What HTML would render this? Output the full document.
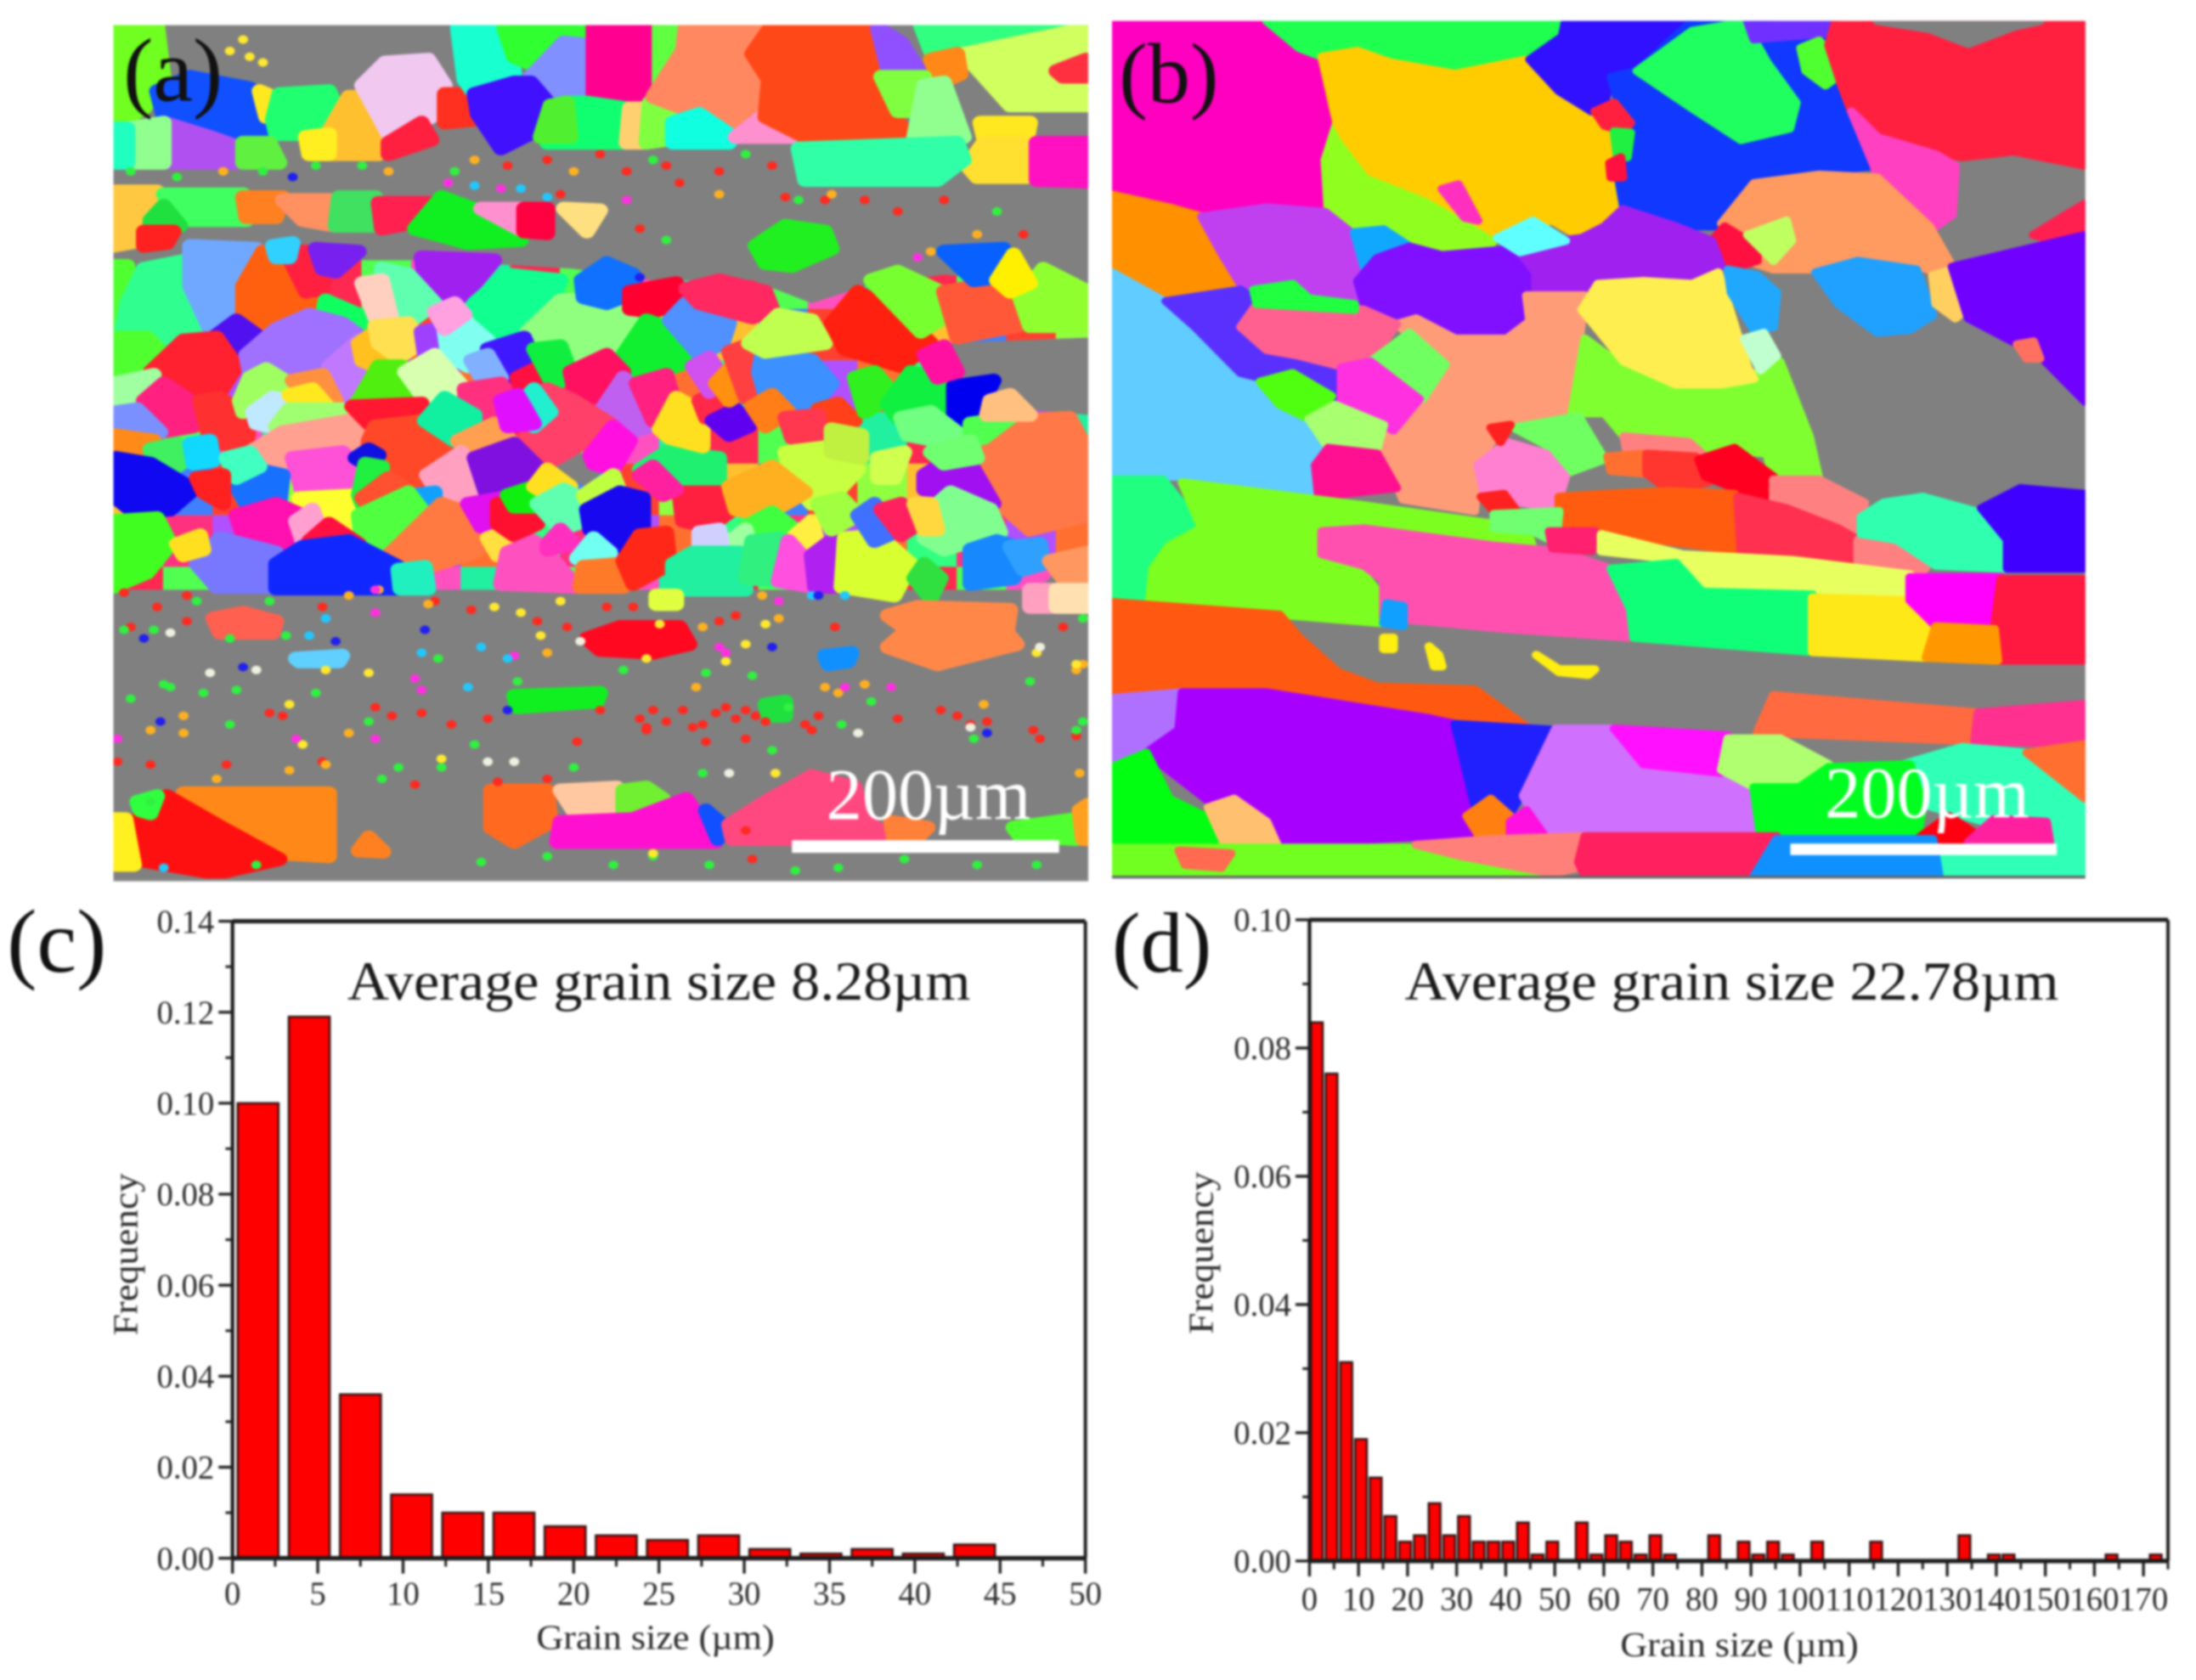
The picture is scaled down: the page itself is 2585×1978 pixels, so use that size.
<!DOCTYPE html>
<html lang="en">
<head>
<meta charset="utf-8">
<title>Grain maps and grain size distributions</title>
<style>
html,body{margin:0;padding:0;background:#fff;width:2585px;height:1978px;overflow:hidden}
#figure{display:block;width:2585px;height:1978px;filter:blur(1.3px)}
text{font-family:"Liberation Serif",serif}
.lbl{fill:#2a2a2a}
</style>
</head>
<body>
<svg id="figure" xmlns="http://www.w3.org/2000/svg" viewBox="0 0 1568 1200" preserveAspectRatio="none">
<defs>
<pattern id="mosaic" patternUnits="userSpaceOnUse" x="44" y="450" width="300" height="270">
<rect width="300" height="270" fill="#40f060"/>
<rect x="0" y="0" width="75" height="90" fill="#ff2850"/>
<rect x="75" y="0" width="75" height="90" fill="#50ff50"/>
<rect x="150" y="0" width="75" height="90" fill="#ff50c0"/>
<rect x="225" y="0" width="75" height="90" fill="#20f0a0"/>
<rect x="0" y="90" width="75" height="90" fill="#ffc030"/>
<rect x="75" y="90" width="75" height="90" fill="#4080ff"/>
<rect x="150" y="90" width="75" height="90" fill="#ff4030"/>
<rect x="225" y="90" width="75" height="90" fill="#90ff40"/>
<rect x="0" y="180" width="75" height="90" fill="#30ff80"/>
<rect x="75" y="180" width="75" height="90" fill="#ff3080"/>
<rect x="150" y="180" width="75" height="90" fill="#b050ff"/>
<rect x="225" y="180" width="75" height="90" fill="#ff7030"/>
</pattern>
</defs>
<rect width="1568" height="1200" fill="#fff"/>

<svg x="81" y="18" width="696" height="610" viewBox="44 45 1474 1490" preserveAspectRatio="none">
<rect x="0" y="0" width="1600" height="1600" fill="#808080"/>
<polygon fill="url(#mosaic)" points="44,480 260,455 520,455 740,470 860,490 1010,490 1100,530 1180,500 1300,480 1518,510 1518,590 1300,600 1270,700 1518,725 1518,950 1440,1030 44,1030"/>
<polygon fill="#808080" points="690,815 740,785 790,815 760,850"/>
<g id="grains-a">
<polygon fill="#70ff20" points="44,45 110,45 120,140 90,190 44,220"/>
<polygon fill="#1050ff" points="110,160 160,135 250,155 280,220 250,255 190,240 120,205"/>
<polygon fill="#b050f0" points="120,215 190,240 240,260 240,285 120,285"/>
<polygon fill="#90ff90" points="65,225 120,215 120,285 70,285"/>
<polygon fill="#20ffc0" points="44,225 65,225 65,285 44,285"/>
<polygon fill="#ffe820" points="265,160 295,175 290,205 275,205"/>
<polygon fill="#20ff70" points="295,165 370,160 385,200 365,235 290,235 285,210"/>
<polygon fill="#60f040" points="240,250 280,250 295,285 240,285"/>
<polygon fill="#ffc030" points="365,240 400,170 420,170 460,235 445,270 340,270"/>
<polygon fill="#f0c8f0" points="420,150 455,110 520,105 545,150 545,190 510,215 460,235"/>
<polygon fill="#ffee20" points="335,240 370,235 370,270 340,270"/>
<polygon fill="#ff2040" points="460,250 510,215 525,245 460,270"/>
<polygon fill="#ff3020" points="545,165 590,165 590,210 545,215"/>
<polygon fill="#18ffd0" points="565,50 640,50 650,130 590,165 575,140"/>
<polygon fill="#30ff30" points="635,50 760,50 710,120 670,110 650,100"/>
<polygon fill="#8090ff" points="675,135 725,75 770,80 770,170 720,180"/>
<polygon fill="#ff0090" points="770,45 870,45 870,165 830,185 770,170"/>
<polygon fill="#4010ff" points="590,165 650,145 675,145 705,185 690,225 630,260 595,200"/>
<polygon fill="#10ff70" points="700,225 725,180 760,180 820,190 825,250 700,250"/>
<polygon fill="#50f030" points="690,240 705,185 730,180 735,240"/>
<polygon fill="#ffd070" points="825,190 850,190 850,250 820,250"/>
<polygon fill="#80ff40" points="855,180 890,200 880,245 850,250"/>
<polygon fill="#60ff40" points="870,45 910,45 890,130 870,165"/>
<polygon fill="#ff8860" points="910,45 1030,45 1010,95 1035,140 1030,210 990,215 930,200 860,170 905,90"/>
<polygon fill="#10ffe0" points="890,215 930,200 975,235 975,250 890,250"/>
<polygon fill="#ff90d0" points="985,240 1030,200 1085,240"/>
<polygon fill="#ff4818" points="1040,45 1200,45 1215,125 1215,185 1245,240 1090,240 1030,205 1035,140 1010,95"/>
<polygon fill="#9050ff" points="1200,50 1235,75 1265,130 1235,135 1215,120"/>
<polygon fill="#30ff80" points="1265,45 1518,45 1518,70 1330,95 1280,90"/>
<polygon fill="#d0ff60" points="1330,95 1518,50 1518,185 1400,185"/>
<polygon fill="#ff3040" points="1470,125 1515,105 1515,135 1480,135"/>
<polygon fill="#ff8818" points="1280,105 1320,95 1325,130 1295,145"/>
<polygon fill="#80ff40" points="1205,135 1270,135 1265,195 1230,195"/>
<polygon fill="#90ff90" points="1255,240 1270,150 1300,145 1330,240"/>
<polygon fill="#ffe820" points="1355,215 1430,215 1425,245 1360,240"/>
<polygon fill="#ffe030" points="1335,290 1360,250 1420,250 1425,310 1350,310"/>
<polygon fill="#ff10c0" points="1440,250 1518,250 1518,318 1440,315"/>
<polygon fill="#30ffa8" points="1080,260 1320,250 1330,280 1290,315 1090,315"/>
<polygon fill="#ffc840" points="44,335 110,335 90,420 44,430"/>
<polygon fill="#40ff60" points="120,340 240,340 245,385 150,385"/>
<polygon fill="#20e040" points="100,385 120,360 145,395 100,405"/>
<polygon fill="#ff2020" points="90,405 135,405 125,425 90,430"/>
<polygon fill="#ff8020" points="240,345 300,345 290,380 245,380"/>
<polygon fill="#ff9060" points="300,350 385,350 380,395 330,385"/>
<polygon fill="#40e060" points="385,345 440,345 440,395 380,395"/>
<polygon fill="#ff2050" points="445,355 525,355 520,385 450,400"/>
<polygon fill="#10f020" points="500,400 540,345 600,370 660,420 580,425"/>
<polygon fill="#ff90d0" points="600,365 665,365 665,405"/>
<polygon fill="#ff0040" points="665,365 700,365 700,408 665,405"/>
<polygon fill="#ffe080" points="725,365 780,368 760,405"/>
<polygon fill="#20f020" points="1015,430 1060,395 1120,405 1130,435 1070,465 1030,460"/>

<polygon fill="#50ff30" points="44,465 65,465 70,600 44,600"/>
<polygon fill="#30ff90" points="65,530 90,470 155,455 185,575 140,590 100,615 55,590"/>
<polygon fill="#70a8ff" points="160,430 260,435 240,490 245,540 220,565 190,575 160,500"/>
<polygon fill="#ff6010" points="240,500 270,440 310,465 345,520 340,555 270,585 240,560"/>
<polygon fill="#ff2040" points="305,440 350,440 365,470 360,505 335,510"/>
<polygon fill="#7820f0" points="350,435 415,440 380,475 360,470"/>
<polygon fill="#30d0ff" points="285,430 315,425 310,450 290,450"/>
<polygon fill="#a020f0" points="510,450 620,455 580,510 555,530 515,490"/>
<polygon fill="#60ffb0" points="450,470 490,480 530,530 490,565 450,555"/>
<polygon fill="#10ff60" points="365,525 415,550 440,580 415,590 360,555"/>
<polygon fill="#ffd0c0" points="420,495 450,490 465,560 440,555"/>
<polygon fill="#50ff30" points="44,590 95,590 120,620 95,660 50,670"/>
<polygon fill="#5010f0" points="195,590 230,560 260,585 240,620 210,620"/>
<polygon fill="#ff2030" points="100,650 150,595 200,590 230,640 200,695 135,680"/>
<polygon fill="#a070ff" points="245,620 290,575 340,550 390,565 420,590 370,640 370,700 320,660 250,650"/>
<polygon fill="#c078ff" points="370,640 415,595 435,630 410,700 370,700"/>
<polygon fill="#ffc020" points="415,600 440,580 460,610 440,640 420,630"/>
<polygon fill="#ffe050" points="440,570 490,565 510,600 475,625 445,600"/>
<polygon fill="#a040ff" points="510,580 550,570 545,620 515,620"/>
<polygon fill="#10ff90" points="590,530 640,480 720,490 700,545 670,590 620,595"/>
<polygon fill="#80fff0" points="545,580 570,555 610,595 580,640 550,620"/>
<polygon fill="#ffa0e0" points="530,545 560,530 575,550 545,575"/>
<polygon fill="#90ff80" points="670,580 720,525 800,520 835,565 800,610 735,630 690,610"/>
<polygon fill="#1070ff" points="752,490 790,460 830,480 835,510 790,530 755,520"/>
<polygon fill="#ff0030" points="825,510 895,495 900,530 860,545 825,540"/>
<polygon fill="#10f030" points="815,620 850,560 900,580 930,625 870,650 820,650"/>
<polygon fill="#5090ff" points="885,560 910,530 975,565 965,600 930,620"/>
<polygon fill="#ff2860" points="910,505 960,490 1030,510 1040,540 1010,555 930,530"/>
<polygon fill="#4018ff" points="610,610 665,590 680,630 640,670 615,650"/>
<polygon fill="#80b0ff" points="585,630 610,620 630,660 600,660"/>
<polygon fill="#50ef10" points="415,700 445,640 480,640 510,705 410,705"/>
<polygon fill="#d8ffb0" points="485,650 530,620 575,680 545,705 510,690"/>
<polygon fill="#ff3080" points="575,680 630,670 655,710 640,740 580,735"/>
<polygon fill="#ff1040" points="655,660 690,640 705,670 660,680"/>
<polygon fill="#10ef40" points="680,610 720,605 735,650 710,675"/>
<polygon fill="#ff1060" points="735,650 790,620 815,650 790,690 745,700"/>
<polygon fill="#c060f0" points="780,720 815,660 850,700 855,745 810,760"/>
<polygon fill="#ff2080" points="835,670 880,655 890,695 860,735"/>
<polygon fill="#a0ffa0" points="44,670 105,655 85,715 44,710"/>
<polygon fill="#ff2080" points="90,700 120,670 160,700 165,745 115,755"/>
<polygon fill="#ff3030" points="175,700 205,695 250,730 245,785 190,770"/>
<polygon fill="#7a90ff" points="50,720 80,715 115,755 85,770 50,760"/>
<polygon fill="#ff8a18" points="44,760 105,770 95,800 44,800"/>
<polygon fill="#40f060" points="100,785 140,775 165,795 140,815 105,810"/>
<polygon fill="#10d8ff" points="160,775 190,770 195,805 165,810"/>
<polygon fill="#a0ff60" points="235,700 250,660 275,645 310,670 305,700 275,690 240,720"/>
<polygon fill="#c0e8ff" points="255,720 285,695 310,700 280,745 260,740"/>
<polygon fill="#ff9040" points="315,665 360,655 380,700 345,700"/>
<polygon fill="#ffe820" points="310,690 345,680 375,720 340,720"/>
<polygon fill="#a0ff70" points="290,745 310,715 400,715 400,735 320,755"/>
<polygon fill="#ffa090" points="250,790 300,755 400,735 435,770 420,790 340,785 310,820"/>
<polygon fill="#ff1830" points="405,710 510,705 510,735 430,740"/>
<polygon fill="#ff4828" points="430,770 440,745 515,735 560,775 510,820 490,860 450,820 430,800"/>
<polygon fill="#10f0a0" points="515,735 545,695 590,725 590,740 560,770"/>
<polygon fill="#ffa050" points="565,770 620,740 645,770 590,795"/>
<polygon fill="#ff4068" points="660,785 700,680 740,700 795,740 760,770 700,810"/>
<polygon fill="#20f0d0" points="655,710 680,680 705,720 680,745"/>
<polygon fill="#e010ff" points="630,700 655,690 680,740 640,745"/>
<polygon fill="#ffa0c0" points="518,830 570,790 595,850 590,880 540,870"/>
<polygon fill="#8010e0" points="590,800 650,775 685,815 660,850 610,870"/>
<polygon fill="#ff10e0" points="765,795 800,745 825,770 800,820 770,810"/>
<polygon fill="#ff50d8" points="315,800 390,790 410,810 410,865 330,860"/>
<polygon fill="#ffff30" points="325,870 410,865 410,915 375,915 330,890"/>
<polygon fill="#1008f0" points="48,800 100,810 165,855 130,890 75,895 48,870"/>
<polygon fill="#1870ff" points="230,850 260,820 300,830 295,880 250,890"/>
<polygon fill="#40ffc0" points="215,800 250,790 265,815 230,835"/>
<polygon fill="#ff2020" points="170,835 210,830 210,880 180,860"/>
<polygon fill="#1010e0" points="410,800 430,785 445,795 425,810"/>
<polygon fill="#20f040" points="415,865 425,810 450,815 450,860 420,880"/>
<polygon fill="#ff5030" points="420,870 460,835 495,860 440,895"/>
<polygon fill="#10a0ff" points="497,865 530,860 530,895 505,895"/>
<polygon fill="#50ff40" points="415,900 490,860 510,890 490,945 440,965 420,950"/>
<polygon fill="#ff7a40" points="460,970 540,880 590,900 620,930 590,965 520,990"/>
<polygon fill="#e010f0" points="580,880 630,870 630,915 600,920"/>
<polygon fill="#ffe040" points="610,940 635,930 645,960 625,970"/>
<polygon fill="#ff1030" points="625,880 675,885 685,915 650,935 625,915"/>
<polygon fill="#10f010" points="640,865 680,850 685,885 650,885"/>
<polygon fill="#ffe020" points="680,850 700,820 735,850 710,870"/>
<polygon fill="#60ffb0" points="685,880 725,855 760,875 755,910 720,925"/>
<polygon fill="#c0ff40" points="755,865 800,830 810,860 765,885"/>
<polygon fill="#1808f0" points="760,890 810,860 845,870 845,920 810,955 765,925"/>
<polygon fill="#ff50c0" points="630,1020 640,965 680,945 710,980 745,1025"/>
<polygon fill="#ff30c0" points="700,950 720,925 740,950 700,960"/>
<polygon fill="#70fff0" points="745,975 770,940 795,965 770,990"/>
<polygon fill="#ff7a28" points="750,1025 755,990 810,985 815,1025"/>
<polygon fill="#ff2818" points="815,980 840,935 880,930 885,985 830,1020"/>
<polygon fill="#20f070" points="840,820 880,790 960,800 960,850 900,855 870,825"/>
<polygon fill="#ff2040" points="900,860 970,860 975,895 945,920 905,910"/>
<polygon fill="#ff20a0" points="860,815 895,855 875,865 840,830"/>
<polygon fill="#ffe020" points="870,750 895,695 935,720 935,780 885,765"/>
<polygon fill="#ff2848" points="930,700 950,690 970,725 940,730"/>
<polygon fill="#6000f0" points="950,735 985,715 1005,745 975,760"/>
<polygon fill="#d050f0" points="920,640 945,625 965,660 945,685"/>
<polygon fill="#ff9010" points="955,670 975,645 1000,680 975,700"/>
<polygon fill="#ff4040" points="975,615 1010,600 1025,680 1000,695"/>
<polygon fill="#3c90ff" points="1020,650 1025,620 1100,630 1130,670 1095,720 1030,690"/>
<polygon fill="#c0ff50" points="1005,600 1050,550 1100,560 1120,600 1030,615"/>
<polygon fill="#ff2010" points="1130,565 1170,510 1245,560 1280,600 1235,640 1150,610"/>
<polygon fill="#ff7e18" points="1010,710 1040,690 1065,720 1030,745"/>
<polygon fill="#ff4018" points="1110,715 1140,705 1165,735 1125,745"/>
<polygon fill="#ff3850" points="1060,730 1110,725 1115,760 1070,765"/>
<polygon fill="#30f020" points="1165,660 1195,650 1225,690 1180,720"/>
<polygon fill="#10f040" points="1215,705 1250,650 1310,665 1310,720 1280,740 1230,730"/>
<polygon fill="#0000f0" points="1315,675 1375,665 1350,720 1330,755 1315,730"/>
<polygon fill="#ff10a0" points="1270,620 1300,605 1320,650 1290,660"/>
<polygon fill="#78ff30" points="1190,490 1230,475 1295,510 1300,555 1265,580"/>
<polygon fill="#ff5838" points="1300,510 1350,500 1400,530 1410,570 1320,590"/>
<polygon fill="#90ff30" points="1415,520 1450,470 1518,510 1518,570 1430,570"/>
<polygon fill="#0860ff" points="1300,440 1390,435 1380,485 1345,490"/>
<polygon fill="#fff000" points="1380,490 1405,445 1430,495 1400,510"/>
<polygon fill="#ff7848" points="1355,780 1400,735 1490,730 1518,790 1518,900 1430,925 1385,880"/>
<polygon fill="#70ff80" points="1235,730 1280,720 1325,760 1290,770 1245,760"/>
<polygon fill="#50ff50" points="1340,740 1400,730 1360,765 1340,770"/>
<polygon fill="#a010f0" points="1270,830 1310,800 1340,810 1375,880 1320,860 1270,855"/>
<polygon fill="#80ff90" points="1270,900 1310,860 1370,890 1385,930 1300,960 1270,940"/>
<polygon fill="#ffc080" points="1370,700 1400,690 1430,725 1365,725"/>
<polygon fill="#c8ff40" points="1060,790 1130,780 1170,820 1130,870 1100,880 1070,840"/>
<polygon fill="#ffb020" points="975,850 1040,815 1090,860 1030,900 985,890"/>
<polygon fill="#40ff40" points="1000,920 1040,895 1075,925 1040,960 1005,950"/>
<polygon fill="#a0ffa0" points="970,950 1000,925 1010,965 985,975"/>
<polygon fill="#d0d0ff" points="930,930 960,925 965,960 930,965"/>
<polygon fill="#ffef40" points="1075,935 1100,910 1110,955 1090,965"/>
<polygon fill="#20f0a0" points="890,985 920,965 990,965 1000,1030 890,1030"/>
<polygon fill="#30f080" points="1000,1010 1010,945 1050,940 1050,1015"/>
<polygon fill="#ff50e0" points="1050,1015 1065,945 1100,990 1105,1025"/>
<polygon fill="#b020f0" points="1100,970 1140,935 1145,1025 1105,1025"/>
<polygon fill="#d8ff30" points="1145,1025 1150,940 1200,935 1250,985 1225,1040"/>
<polygon fill="#30e040" points="1255,1010 1270,985 1295,1010 1280,1045"/>
<polygon fill="#a0ff40" points="1110,880 1145,870 1170,900 1130,925"/>
<polygon fill="#4070ff" points="1170,900 1195,880 1225,930 1195,945"/>
<polygon fill="#ff2060" points="1205,890 1235,880 1255,920 1235,935"/>
<polygon fill="#ffd840" points="1255,880 1280,880 1290,925 1270,925"/>
<polygon fill="#1888ff" points="1340,960 1380,945 1425,960 1405,1010 1340,1020"/>
<polygon fill="#30a0ff" points="1400,955 1445,950 1450,985 1420,995"/>
<polygon fill="#ff9860" points="1460,980 1518,965 1518,1010 1480,1010"/>
<polygon fill="#ffa0c0" points="1430,1030 1465,1030 1465,1060 1430,1060"/>
<polygon fill="#ffe0b0" points="1470,1030 1518,1030 1518,1060 1470,1060"/>
<polygon fill="#c0f040" points="1130,750 1175,760 1175,800 1130,790"/>
<polygon fill="#d0ff50" points="1200,800 1240,790 1225,835 1200,835"/>
<polygon fill="#70ff70" points="1280,790 1340,770 1350,800 1300,810"/>
<polygon fill="#ff10b0" points="230,900 290,880 330,900 330,945 290,965 240,935"/>
<polygon fill="#ffa0d0" points="320,910 345,890 355,920 330,945"/>
<polygon fill="#ff1040" points="340,945 370,915 415,950 345,955"/>
<polygon fill="#7878ff" points="170,985 205,940 290,965 290,1025 200,1025"/>
<polygon fill="#1028ff" points="290,985 330,955 400,945 475,990 475,1028 290,1028"/>
<polygon fill="#40ff20" points="44,910 110,905 130,950 95,1000 44,1025"/>
<polygon fill="#ffe020" points="140,950 175,935 180,960 150,970"/>
<polygon fill="#20f0c0" points="475,995 515,990 520,1028 478,1028"/>

<polygon fill="#ff6050" points="195,1080 240,1070 290,1085 285,1105 205,1105"/>
<polygon fill="#ff0820" points="760,1115 810,1095 900,1095 915,1125 860,1140 780,1135"/>
<polygon fill="#ff8848" points="1215,1075 1260,1060 1400,1065 1395,1105 1410,1125 1290,1160 1215,1130 1245,1100"/>
<polygon fill="#1090ff" points="1120,1145 1160,1140 1155,1155 1125,1160"/>
<polygon fill="#10f020" points="650,1215 780,1210 775,1225 655,1235"/>
<polygon fill="#60d0ff" points="320,1150 390,1145 385,1155 325,1155"/>
<polygon fill="#e0ff40" points="865,1040 895,1040 895,1055 865,1055"/>
<polygon fill="#20e040" points="1030,1230 1060,1225 1060,1250 1035,1250"/>

<polygon fill="#ff8818" points="150,1385 370,1385 370,1495 295,1490"/>
<polygon fill="#ff1010" points="75,1435 125,1390 200,1440 295,1500 200,1525 75,1500"/>
<polygon fill="#fff020" points="44,1430 62,1430 75,1510 44,1510"/>
<polygon fill="#30ff40" points="80,1400 110,1390 100,1420 85,1415"/>
<polygon fill="#ff8020" points="415,1485 430,1462 452,1487"/>
<polygon fill="#ff6a20" points="615,1380 700,1380 705,1435 650,1470 615,1445"/>
<polygon fill="#ffc8a0" points="720,1380 805,1375 810,1425 745,1425"/>
<polygon fill="#70f030" points="815,1380 850,1375 875,1395 840,1420 815,1415"/>
<polygon fill="#ff10d0" points="720,1435 830,1430 910,1395 955,1470 715,1470"/>
<polygon fill="#1050ff" points="940,1415 965,1440 958,1465"/>
<polygon fill="#ff4880" points="975,1440 1030,1400 1100,1355 1165,1375 1175,1430 1225,1465 980,1465"/>
<polygon fill="#ff8038" points="1220,1435 1275,1445 1255,1467 1225,1467"/>
<polygon fill="#50ff30" points="1405,1445 1500,1430 1500,1465 1415,1460"/>
<polygon fill="#ffa020" points="1505,1415 1518,1405 1518,1465 1510,1465"/>
</g>
<g fill="none" stroke-linecap="round" stroke-width="15">
<path stroke="#ff2a20" d="M640 290h.1M700 280h.1M780 270h.1M820 300h.1M880 290h.1M900 320h.1M960 300h.1M1040 290h.1M720 340h.1M1180 350h.1M1230 370h.1M1300 350h.1M840 400h.1M1420 410h.1M1120 350h.1M1060 345h.1M60 1035h.1M155 1040h.1M110 1060h.1M155 1085h.1M70 1095h.1M360 1060h.1M530 1050h.1M585 1065h.1M685 1085h.1M730 1095h.1M790 1060h.1M830 1060h.1M960 1085h.1M985 1075h.1M1135 1095h.1M1480 1095h.1M440 1235h.1M465 1250h.1M510 1245h.1M555 1265h.1M610 1255h.1M780 1240h.1M860 1240h.1M880 1260h.1M905 1240h.1M935 1265h.1M970 1235h.1M1000 1240h.1M1030 1260h.1M1090 1265h.1M1110 1250h.1M1230 1255h.1M1295 1240h.1M1340 1265h.1M1365 1260h.1M1435 1275h.1M1500 1285h.1M745 1295h.1M940 1295h.1M1000 1290h.1M50 1330h.1M100 1335h.1M215 1335h.1M360 1330h.1M500 1370h.1M625 1365h.1M700 1360h.1M1000 1450h.1M1010 1500h.1M280 1245h.1M300 1250h.1M850 1270h.1M920 1270h.1M850 1275h.1M1445 1290h.1M985 1255h.1M1015 1250h.1M955 1245h.1M840 1255h.1M1320 1250h.1M1100 1275h.1"/>
<path stroke="#30f040" d="M70 300h.1M140 310h.1M270 300h.1M350 290h.1M420 290h.1M560 300h.1M860 280h.1M1000 270h.1M1080 350h.1M1380 370h.1M880 420h.1M60 1100h.1M105 1100h.1M220 1115h.1M305 1110h.1M535 1150h.1M655 1190h.1M1010 1180h.1M940 1175h.1M1190 1225h.1M1065 1235h.1M1145 1265h.1M1345 1290h.1M1040 1310h.1M740 1340h.1M935 1350h.1M1510 1260h.1M120 1195h.1M180 1210h.1M230 1205h.1M430 1260h.1M220 1265h.1M815 1170h.1M170 1050h.1M280 1050h.1M540 1340h.1M475 1340h.1M700 1495h.1M1140 1515h.1M945 1510h.1M1075 1520h.1M860 1495h.1M100 1400h.1M1240 1500h.1M1430 1190h.1M1510 1080h.1M450 1360h.1M590 1300h.1M350 1210h.1M70 1220h.1M130 1200h.1M1500 1275h.1M800 1510h.1M600 1505h.1M260 1510h.1M1350 1510h.1M1440 1510h.1"/>
<path stroke="#ffb020" d="M210 300h.1M460 300h.1M590 280h.1M740 300h.1M960 340h.1M1130 340h.1M1280 440h.1M1350 410h.1M400 1040h.1M445 1030h.1M520 1055h.1M1120 1200h.1M1180 1195h.1M925 1200h.1M150 1250h.1M100 1275h.1M150 1280h.1M400 1280h.1M310 1345h.1M200 1360h.1M365 1335h.1M1025 1040h.1M1050 1080h.1M935 1095h.1M700 1140h.1M1360 1230h.1M1505 1350h.1M1510 1160h.1M1140 1210h.1M1500 1170h.1"/>
<path stroke="#ffe830" d="M220 90h.1M250 100h.1M270 110h.1M240 70h.1M620 1060h.1M660 1070h.1M720 1050h.1M870 1090h.1M970 1155h.1M850 1150h.1M690 1110h.1M1030 1090h.1M365 1170h.1M430 1175h.1M1440 1140h.1M1500 1160h.1M540 1325h.1M330 1300h.1M310 1230h.1M1045 1350h.1M1000 1125h.1M860 1490h.1"/>
<path stroke="#ff30e0" d="M550 320h.1M630 330h.1M1260 450h.1M820 350h.1M440 1070h.1M510 1205h.1M440 1030h.1M1050 1050h.1M970 1140h.1M1150 1200h.1M1220 1200h.1M50 1290h.1M320 1290h.1M960 1130h.1M440 1290h.1M500 1185h.1M650 1145h.1"/>
<path stroke="#20c8ff" d="M590 325h.1M660 330h.1M700 345h.1M510 1140h.1M600 1130h.1M640 1150h.1M1150 1040h.1M365 1080h.1M340 1110h.1M580 1200h.1M1100 1040h.1M120 1515h.1"/>
<path stroke="#2020f0" d="M315 310h.1M840 485h.1M90 1115h.1M240 1165h.1M640 1240h.1M515 1100h.1M380 1120h.1M1040 1130h.1M1110 1040h.1M115 1260h.1M1365 1280h.1"/>
<path stroke="#f0f0e0" d="M130 1105h.1M190 1175h.1M260 1170h.1M750 1120h.1M610 1330h.1M650 1330h.1M1170 1280h.1M1445 1130h.1M975 1350h.1M1340 1270h.1"/>
</g>
<path d="M1070 1478H1474" stroke="#fff" stroke-width="22" fill="none"/>
</svg>

<svg x="794" y="15" width="695" height="611" viewBox="12 38 1498 1487" preserveAspectRatio="none">
<rect x="0" y="0" width="1600" height="1600" fill="#808080"/>
<g id="grains-b">
<polygon fill="#ff00c0" points="12,38 250,38 300,85 335,100 358,215 340,280 342,370 200,375 150,378 100,362 12,340"/>
<polygon fill="#1eff50" points="250,38 710,38 705,65 650,105 540,130 440,110 390,90 335,100 300,85"/>
<polygon fill="#90ff20" points="358,215 370,240 410,300 500,340 570,385 605,410 590,435 520,445 470,430 430,405 385,400 345,370 340,280"/>
<polygon fill="#ffcc00" points="335,100 390,90 440,110 540,130 650,105 700,160 750,195 785,240 790,300 798,365 770,395 735,415 690,385 640,395 605,410 570,385 500,340 410,300 370,240 358,215"/>
<polygon fill="#ff30c0" points="520,330 545,322 575,385 555,380"/>
<polygon fill="#3010ff" points="710,38 905,38 820,125 780,135 770,180 750,195 700,160 655,105 705,65"/>
<polygon fill="#1038ff" points="990,38 1115,60 1140,150 1150,200 1190,290 1100,300 1000,320 950,395 880,395 800,365 790,300 810,250 780,135 820,125 905,38"/>
<polygon fill="#ff2040" points="755,195 785,180 810,215 800,230 770,220"/>
<polygon fill="#20f040" points="785,230 810,232 805,275 790,275"/>
<polygon fill="#ff1040" points="778,285 795,275 798,310 780,310"/>
<polygon fill="#20ff60" points="820,125 905,55 985,40 1020,110 1065,180 1055,225 980,245 905,190"/>
<polygon fill="#7030ff" points="990,38 1125,38 1110,60 1000,70"/>
<polygon fill="#50ff30" points="1072,85 1100,72 1140,125 1110,150 1080,125"/>
<polygon fill="#ff2040" points="1125,42 1170,38 1510,38 1510,290 1400,265 1320,275 1270,265 1190,240 1150,195 1135,150 1115,80"/>
<polygon fill="#808080" points="1190,38 1440,38 1400,48 1330,78 1270,52"/>
<polygon fill="#ff40c0" points="1150,195 1190,240 1280,270 1310,290 1305,375 1280,395 1200,340 1185,290"/>
<polygon fill="#ff2050" points="1430,410 1480,375 1510,355 1510,410 1460,420"/>
<polygon fill="#ff9a60" points="1000,320 1100,305 1190,310 1270,395 1305,465 1280,475 1230,455 1160,455 1095,470 1030,470 990,455 1010,430 960,400 950,390"/>
<polygon fill="#ff1040" points="955,395 1005,430 1005,455 960,470 935,420"/>
<polygon fill="#c0ff60" points="990,410 1050,385 1058,420 1030,455"/>
<polygon fill="#ff9000" points="12,340 100,362 150,378 210,490 215,505 100,522 12,475"/>
<polygon fill="#c040f0" points="150,378 250,362 340,370 385,410 400,470 395,525 320,515 215,505 180,440"/>
<polygon fill="#10a8ff" points="385,405 430,400 470,430 400,465"/>
<polygon fill="#a020f0" points="625,445 700,420 735,415 770,395 798,365 880,395 935,420 950,465 905,495 830,490 740,520 650,510"/>
<polygon fill="#8010ff" points="390,490 420,450 470,430 520,445 620,435 650,480 650,560 620,590 540,590 480,560 400,530"/>
<polygon fill="#60ffff" points="605,415 660,385 710,420 640,440"/>
<polygon fill="#ff9c78" points="450,565 480,555 540,590 620,590 655,560 650,515 740,515 730,600 725,720 640,730 610,750 575,800 570,890 460,870 420,760 480,710 530,640"/>
<polygon fill="#80ff30" points="720,720 740,590 800,640 880,670 985,660 1040,630 1085,760 1100,835 1030,835 1020,790 920,780 800,760 770,720"/>
<polygon fill="#ffee50" points="735,540 760,495 830,490 905,495 945,475 990,640 1000,660 950,670 880,670 800,630"/>
<polygon fill="#20a8ff" points="960,470 1005,480 1035,510 1030,570 1000,575 965,510"/>
<polygon fill="#20a0ff" points="1095,475 1160,455 1250,470 1275,550 1240,575 1190,580 1130,530"/>
<polygon fill="#ffd060" points="1275,480 1305,470 1325,540 1310,555 1280,530"/>
<polygon fill="#7000ff" points="1305,465 1510,410 1510,700 1440,620 1330,555"/>
<polygon fill="#ff7060" points="1405,600 1430,595 1440,625 1420,625"/>
<polygon fill="#60ccff" points="12,475 100,530 210,650 345,760 330,865 150,830 12,830"/>
<polygon fill="#5a30ff" points="95,525 210,505 235,525 210,590 250,620 360,620 365,700 320,660 245,660 210,650 140,570"/>
<polygon fill="#ff6090" points="210,570 235,530 320,530 400,540 450,565 410,630 370,640 300,620 250,610"/>
<polygon fill="#20ff40" points="230,505 290,495 315,520 385,530 385,540 235,530"/>
<polygon fill="#70ff60" points="410,630 470,580 525,635 490,695 450,650"/>
<polygon fill="#ff30e0" points="365,640 410,630 485,695 445,750 365,700"/>
<polygon fill="#50ff10" points="240,665 290,650 350,690 315,730 270,705"/>
<polygon fill="#a8ff70" points="315,730 355,705 430,740 420,780 345,780"/>
<polygon fill="#ff1090" points="325,810 345,780 420,790 450,850 330,865"/>
<polygon fill="#70ff60" points="630,745 730,725 770,800 710,825 680,775"/>
<polygon fill="#c0ffd0" points="985,590 1015,580 1035,620 1010,645"/>
<polygon fill="#ff80d0" points="575,810 620,770 680,790 710,830 695,885 640,875 585,860"/>
<polygon fill="#ff2020" points="595,745 625,740 610,770"/>
<polygon fill="#ff2020" points="580,865 615,860 635,890 600,890"/>
<polygon fill="#ff8080" points="800,760 900,770 920,790 835,790 805,790"/>
<polygon fill="#ff7030" points="775,795 830,790 835,825 780,820"/>
<polygon fill="#ff3530" points="835,790 910,795 930,840 870,855 835,825"/>
<polygon fill="#ff0020" points="915,800 970,780 1030,830 1030,870 970,850 925,830"/>
<polygon fill="#ff8080" points="1030,835 1100,835 1170,875 1165,935 1100,905 1030,870"/>
<polygon fill="#ff5c10" points="700,865 770,860 870,855 970,860 980,960 850,940 760,925 700,915"/>
<polygon fill="#ff3050" points="975,865 1050,885 1130,920 1160,940 1160,985 1040,965 980,960"/>
<polygon fill="#ff8080" points="1160,940 1220,945 1275,970 1260,995 1160,985"/>
<polygon fill="#30ffb0" points="1165,900 1200,875 1260,865 1340,890 1390,940 1385,990 1280,985 1220,940 1165,930"/>
<polygon fill="#4000ff" points="1350,885 1410,850 1510,860 1510,990 1390,990 1390,940"/>
<polygon fill="#20ff80" points="12,835 90,835 150,920 100,950 70,1045 12,1045"/>
<polygon fill="#7cff20" points="120,840 400,880 650,920 660,955 400,925 335,925 335,965 400,1000 435,1050 430,1085 270,1070 70,1045 75,990 100,950 150,920"/>
<polygon fill="#ff50b0" points="335,925 400,920 600,950 700,960 780,990 810,1060 810,1110 620,1095 430,1075 430,1010 400,985 335,965"/>
<polygon fill="#70ff70" points="600,895 700,890 695,945 660,925 600,920"/>
<polygon fill="#ff2070" points="685,925 755,925 750,960 690,955"/>
<polygon fill="#e8ff60" points="765,930 890,965 1060,975 1240,1000 1240,1050 1090,1040 1000,1035 920,1030 885,975 765,960"/>
<polygon fill="#10ff78" points="780,990 880,980 920,1030 1090,1035 1090,1135 815,1110 810,1060"/>
<polygon fill="#ffe818" points="1090,1040 1240,1045 1280,1090 1265,1145 1090,1135"/>
<polygon fill="#ff00ff" points="1240,1005 1380,1005 1370,1095 1280,1090 1240,1045"/>
<polygon fill="#ff1840" points="1380,1008 1510,1008 1510,1150 1375,1150 1370,1095"/>
<polygon fill="#ff9800" points="1280,1090 1370,1095 1375,1150 1265,1145"/>
<polygon fill="#ff5810" points="12,1048 270,1070 300,1110 360,1170 420,1195 570,1200 650,1265 500,1250 250,1205 120,1205 12,1215"/>
<polygon fill="#10a0ff" points="435,1050 460,1055 460,1090 430,1085"/>
<polygon fill="#ffee10" points="430,1110 445,1110 445,1130 430,1130"/>
<polygon fill="#ffee10" points="500,1125 515,1140 520,1160 508,1160"/>
<polygon fill="#ffee10" points="665,1140 700,1165 755,1165 745,1175 700,1170"/>
<polygon fill="#ff6a40" points="1030,1210 1345,1240 1340,1290 1005,1275"/>
<polygon fill="#ff3090" points="1345,1240 1510,1225 1510,1295 1340,1290"/>
<polygon fill="#b070ff" points="12,1215 120,1205 115,1270 65,1310 12,1335"/>
<polygon fill="#a800ff" points="120,1205 250,1205 500,1250 540,1260 570,1450 350,1465 270,1475 190,1420 65,1310 115,1270"/>
<polygon fill="#2020ff" points="540,1260 690,1270 665,1340 625,1415 595,1390 570,1400"/>
<polygon fill="#d070ff" points="695,1268 785,1268 830,1330 950,1350 1005,1380 1010,1455 850,1455 680,1460 645,1385"/>
<polygon fill="#ff10ff" points="785,1268 960,1280 950,1345 830,1330"/>
<polygon fill="#b0ff70" points="960,1285 1040,1285 1115,1330 1070,1370 1000,1370 950,1340"/>
<polygon fill="#30ffb8" points="1230,1330 1320,1300 1420,1310 1510,1385 1510,1525 1280,1525 1270,1470 1450,1460 1260,1400"/>
<polygon fill="#00ff20" points="1000,1370 1070,1370 1115,1335 1240,1330 1260,1400 1250,1465 1010,1455"/>
<polygon fill="#ff7030" points="1420,1310 1510,1295 1510,1390"/>
<polygon fill="#ff0010" points="1245,1465 1300,1420 1340,1450 1330,1465"/>
<polygon fill="#ff20a0" points="1330,1465 1370,1425 1450,1430 1455,1465"/>
<polygon fill="#00ff10" points="12,1335 65,1310 100,1390 190,1440 190,1475 12,1475"/>
<polygon fill="#ffc070" points="160,1405 200,1390 250,1430 270,1480 190,1480"/>
<polygon fill="#ff8010" points="558,1420 595,1390 625,1420 620,1460 580,1460"/>
<polygon fill="#ff10e0" points="625,1430 650,1410 678,1455 625,1455"/>
<polygon fill="#70ff20" points="12,1475 480,1475 680,1525 12,1525"/>
<polygon fill="#ff8078" points="480,1470 600,1460 740,1455 730,1510 690,1520 550,1490"/>
<polygon fill="#ff2060" points="740,1455 1035,1455 990,1525 740,1525 730,1500"/>
<polygon fill="#ff6a50" points="115,1480 195,1485 180,1510 125,1505"/>
<polygon fill="#1090ff" points="1035,1460 1275,1460 1285,1525 1000,1525"/>
</g>
<path d="M1056 1478H1466" stroke="#fff" stroke-width="20" fill="none"/>
</svg>

<line x1="81" y1="628.5" x2="777" y2="628.5" stroke="#888" stroke-width="2"/>
<line x1="794" y1="626.5" x2="1489" y2="626.5" stroke="#666" stroke-width="2"/>

<text x="88" y="72" font-size="64" fill="#111">(a)</text>
<text x="799" y="73" font-size="61" fill="#111">(b)</text>
<text x="5" y="694" font-size="64" fill="#111">(c)</text>
<text x="794" y="694" font-size="61" fill="#111">(d)</text>
<text x="590" y="585" font-size="52" fill="#fff" textLength="146" lengthAdjust="spacingAndGlyphs">200µm</text>
<text x="1303" y="584" font-size="52" fill="#fff" textLength="146" lengthAdjust="spacingAndGlyphs">200µm</text>

<g id="chart-c"></g>
<g id="chart-d"></g>

<text x="248" y="714" font-size="39" fill="#1a1a1a" textLength="445" lengthAdjust="spacingAndGlyphs">Average grain size 8.28µm</text>
<text x="1003" y="714" font-size="39" fill="#1a1a1a" textLength="467" lengthAdjust="spacingAndGlyphs">Average grain size 22.78µm</text>
<text x="468" y="1178" font-size="25" class="lbl" text-anchor="middle" textLength="170" lengthAdjust="spacingAndGlyphs">Grain size (µm)</text>
<text x="1242" y="1183" font-size="25" class="lbl" text-anchor="middle" textLength="170" lengthAdjust="spacingAndGlyphs">Grain size (µm)</text>
<text transform="translate(98,896) rotate(-90)" font-size="25" class="lbl" text-anchor="middle" textLength="116" lengthAdjust="spacingAndGlyphs">Frequency</text>
<text transform="translate(866,895) rotate(-90)" font-size="25" class="lbl" text-anchor="middle" textLength="116" lengthAdjust="spacingAndGlyphs">Frequency</text>
</svg>

<script>
const cBinCenters = [1.5, 4.5, 7.5, 10.5, 13.5, 16.5, 19.5, 22.5, 25.5, 28.5, 31.5, 34.5, 37.5, 40.5, 43.5];
const cFrequency = [0.100, 0.119, 0.036, 0.014, 0.010, 0.010, 0.007, 0.005, 0.004, 0.005, 0.002, 0.001, 0.002, 0.001, 0.003];
const cXTicks = [0, 5, 10, 15, 20, 25, 30, 35, 40, 45, 50];
const cYTicks = ["0.00", "0.02", "0.04", "0.06", "0.08", "0.10", "0.12", "0.14"];

const dBinCenters = [1.5, 4.5, 7.5, 10.5, 13.5, 16.5, 19.5, 22.5, 25.5, 28.5, 31.5, 34.5, 37.5, 40.5, 43.5, 46.5, 49.5, 52.5, 55.5, 58.5, 61.5, 64.5, 67.5, 70.5, 73.5, 76.5, 79.5, 82.5, 85.5, 88.5, 91.5, 94.5, 97.5, 100.5, 103.5, 106.5, 109.5, 112.5, 115.5, 118.5, 121.5, 124.5, 127.5, 130.5, 133.5, 136.5, 139.5, 142.5, 145.5, 148.5, 151.5, 154.5, 157.5, 160.5, 163.5, 166.5, 169.5, 172.5];
const dFrequency = [0.084, 0.076, 0.031, 0.019, 0.013, 0.007, 0.003, 0.004, 0.009, 0.004, 0.007, 0.003, 0.003, 0.003, 0.006, 0.001, 0.003, 0, 0.006, 0.001, 0.004, 0.003, 0.001, 0.004, 0.001, 0, 0, 0.004, 0, 0.003, 0.001, 0.003, 0.001, 0, 0.003, 0, 0, 0, 0.003, 0, 0, 0, 0, 0, 0.004, 0, 0.001, 0.001, 0, 0, 0, 0, 0, 0, 0.001, 0, 0, 0.001];
const dXTicks = [0, 10, 20, 30, 40, 50, 60, 70, 80, 90, 100, 110, 120, 130, 140, 150, 160, 170];
const dYTicks = ["0.00", "0.02", "0.04", "0.06", "0.08", "0.10"];

const SVG_NS = 'http://www.w3.org/2000/svg';

document.querySelectorAll('#grains-a polygon').forEach(p => {
  p.setAttribute('stroke', p.getAttribute('fill'));
  p.setAttribute('stroke-width', '24');
  p.setAttribute('stroke-linejoin', 'round');
});
document.querySelectorAll('#grains-b polygon').forEach(p => {
  p.setAttribute('stroke', p.getAttribute('fill'));
  p.setAttribute('stroke-width', '14');
  p.setAttribute('stroke-linejoin', 'round');
});

function makeLine(parent, x1, y1, x2, y2, width) {
  const line = document.createElementNS(SVG_NS, 'line');
  line.setAttribute('x1', x1);
  line.setAttribute('y1', y1);
  line.setAttribute('x2', x2);
  line.setAttribute('y2', y2);
  line.setAttribute('stroke', '#1c1c1c');
  line.setAttribute('stroke-width', width);
  
  
  parent.appendChild(line);
}

function makeTick(parent, x1, y1, x2, y2, width) {
  const tick = document.createElementNS(SVG_NS, 'line');
  tick.setAttribute('x1', x1);
  tick.setAttribute('y1', y1);
  tick.setAttribute('x2', x2);
  tick.setAttribute('y2', y2);
  tick.setAttribute('stroke', '#1c1c1c');
  tick.setAttribute('stroke-width', width);
  
  
  parent.appendChild(tick);
}

function makeLabel(parent, x, y, anchor, content) {
  const t = document.createElementNS(SVG_NS, 'text');
  t.setAttribute('x', x);
  t.setAttribute('y', y);
  t.setAttribute('text-anchor', anchor);
  t.setAttribute('font-size', '23.5');
  t.setAttribute('class', 'lbl');
  
  
  t.textContent = content;
  parent.appendChild(t);
}

function drawHistogram(id, centers, freqs, xTicks, yTicks, box) {
  const root = document.getElementById(id);
  const yMax = parseFloat(yTicks[yTicks.length - 1]);
  const xScale = v => box.left + (v / box.xMax) * (box.right - box.left);
  const yScale = v => box.bottom - (v / yMax) * (box.bottom - box.top);
  const pxPerUnit = (box.right - box.left) / box.xMax;

  centers.forEach((c, i) => {
    const h = yScale(0) - yScale(freqs[i]);
    if (h <= 0) return;
    const bar = document.createElementNS(SVG_NS, 'rect');
    bar.setAttribute('x', xScale(c) - box.barWidth * pxPerUnit / 2);
    bar.setAttribute('y', yScale(freqs[i]));
    bar.setAttribute('width', box.barWidth * pxPerUnit);
    bar.setAttribute('height', h);
    bar.setAttribute('fill', '#ff0000');
    bar.setAttribute('stroke', '#301010');
    bar.setAttribute('stroke-width', '1.5');
    
    
    root.appendChild(bar);
  });

  makeLine(root, box.left, box.top, box.right, box.top, 3);
  makeLine(root, box.right, box.top, box.right, box.bottom, 2.4);
  makeLine(root, box.left, box.top, box.left, box.bottom, 2.6);
  makeLine(root, box.left, box.bottom, box.right, box.bottom, 3.2);

  xTicks.forEach((v, i) => {
    const x = xScale(v);
    makeTick(root, x, box.bottom, x, box.bottom + 11, 2);
    makeLabel(root, x, box.bottom + box.xLabelGap, 'middle', String(v));
    if (i < xTicks.length - 1) {
      const mid = xScale((v + xTicks[i + 1]) / 2);
      makeTick(root, mid, box.bottom, mid, box.bottom + 6, 1.8);
    } else if (xScale(v + (xTicks[1] - xTicks[0]) / 2) <= box.right) {
      const mid = xScale(v + (xTicks[1] - xTicks[0]) / 2);
      makeTick(root, mid, box.bottom, mid, box.bottom + 6, 1.8);
    }
  });

  yTicks.forEach((label, i) => {
    const value = parseFloat(label);
    const y = yScale(value);
    makeTick(root, box.left, y, box.left - 10, y, 2);
    makeLabel(root, box.left - 13, y + 8, 'end', label);
    if (i < yTicks.length - 1) {
      const mid = yScale((value + parseFloat(yTicks[i + 1])) / 2);
      makeTick(root, box.left, mid, box.left - 5, mid, 1.8);
    }
  });
}

drawHistogram('chart-c', cBinCenters, cFrequency, cXTicks, cYTicks,
  {left: 166, right: 775, top: 658, bottom: 1113, xMax: 50, barWidth: 2.4, xLabelGap: 33});
drawHistogram('chart-d', dBinCenters, dFrequency, dXTicks, dYTicks,
  {left: 935, right: 1548, top: 657, bottom: 1115, xMax: 175, barWidth: 2.4, xLabelGap: 35});
</script>
</body>
</html>
